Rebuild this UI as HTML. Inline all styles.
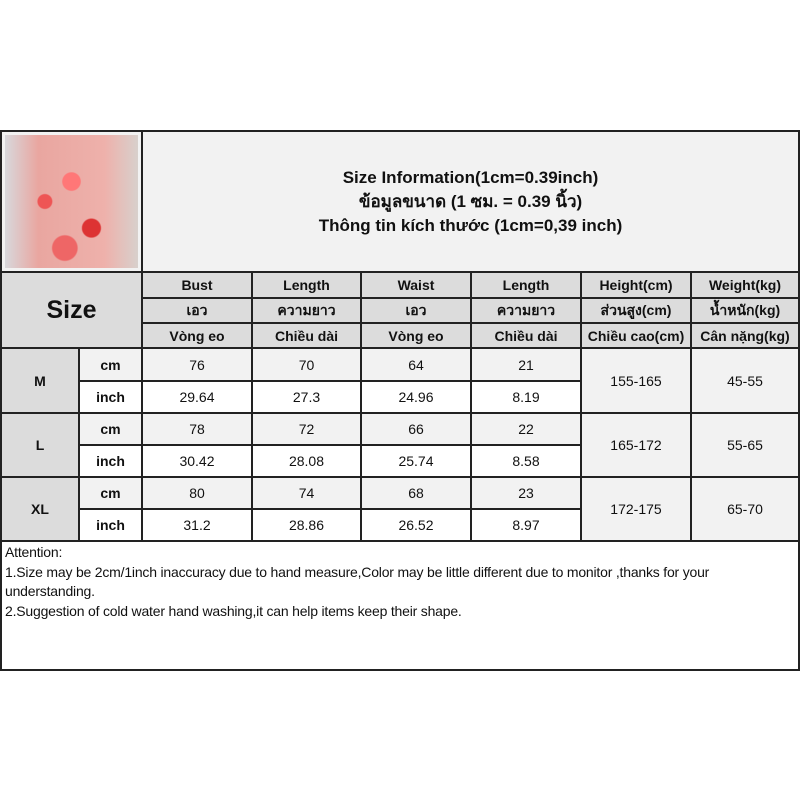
<!DOCTYPE html>
<html><head><meta charset="utf-8"><style>
body{margin:0;width:800px;height:800px;background:#fff;position:relative;overflow:hidden;font-family:"Liberation Sans","Noto Sans CJK SC",sans-serif;color:#111}
.c{position:absolute;box-sizing:border-box;border:2px solid #222;display:flex;align-items:center;justify-content:center;text-align:center;font-size:14px;background:#fff}
.h{background:#dcdcdc;font-weight:bold}
.g{background:#f2f2f2}
.b{font-weight:bold}
</style></head><body>
<div class="c" style="left:0;top:130px;width:143px;height:143px;padding:3px;background:#f2f2f2">
<div style="width:100%;height:100%;background:radial-gradient(circle at 30% 50%,#e55 0 6%,transparent 7%),radial-gradient(circle at 65% 70%,#d33 0 7%,transparent 8%),radial-gradient(circle at 50% 35%,#f77 0 8%,transparent 9%),radial-gradient(circle at 45% 85%,#e66 0 9%,transparent 10%),linear-gradient(90deg,#d8d8dc 0%,#e9a6a0 25%,#eeb1ab 75%,#d8d0cc 100%);"></div></div>
<div class="c g" style="left:141px;top:130px;width:659px;height:143px;flex-direction:column;font-weight:bold;font-size:17px;line-height:24px">
<div>Size Information(1cm=0.39inch)</div><div>ข้อมูลขนาด (1 ซม. = 0.39 นิ้ว)</div><div>Thông tin kích thước (1cm=0,39 inch)</div></div>
<div class="c h" style="left:0;top:271px;width:143px;height:78px;font-size:25px">Size</div>
<div class="c h" style="left:141px;top:271px;width:112px;height:28px">Bust</div>
<div class="c h" style="left:251px;top:271px;width:111px;height:28px">Length</div>
<div class="c h" style="left:360px;top:271px;width:112px;height:28px">Waist</div>
<div class="c h" style="left:470px;top:271px;width:112px;height:28px">Length</div>
<div class="c h" style="left:580px;top:271px;width:112px;height:28px">Height(cm)</div>
<div class="c h" style="left:690px;top:271px;width:110px;height:28px">Weight(kg)</div>
<div class="c h" style="left:141px;top:297px;width:112px;height:27px">เอว</div>
<div class="c h" style="left:251px;top:297px;width:111px;height:27px">ความยาว</div>
<div class="c h" style="left:360px;top:297px;width:112px;height:27px">เอว</div>
<div class="c h" style="left:470px;top:297px;width:112px;height:27px">ความยาว</div>
<div class="c h" style="left:580px;top:297px;width:112px;height:27px">ส่วนสูง(cm)</div>
<div class="c h" style="left:690px;top:297px;width:110px;height:27px">น้ำหนัก(kg)</div>
<div class="c h" style="left:141px;top:322px;width:112px;height:27px">Vòng eo</div>
<div class="c h" style="left:251px;top:322px;width:111px;height:27px">Chiều dài</div>
<div class="c h" style="left:360px;top:322px;width:112px;height:27px">Vòng eo</div>
<div class="c h" style="left:470px;top:322px;width:112px;height:27px">Chiều dài</div>
<div class="c h" style="left:580px;top:322px;width:112px;height:27px">Chiều cao(cm)</div>
<div class="c h" style="left:690px;top:322px;width:110px;height:27px">Cân nặng(kg)</div>
<div class="c h" style="left:0;top:347px;width:80px;height:67px">M</div>
<div class="c g b" style="left:78px;top:347px;width:65px;height:35px">cm</div>
<div class="c b" style="left:78px;top:380px;width:65px;height:34px">inch</div>
<div class="c g" style="left:141px;top:347px;width:112px;height:35px">76</div>
<div class="c g" style="left:251px;top:347px;width:111px;height:35px">70</div>
<div class="c g" style="left:360px;top:347px;width:112px;height:35px">64</div>
<div class="c g" style="left:470px;top:347px;width:112px;height:35px">21</div>
<div class="c" style="left:141px;top:380px;width:112px;height:34px">29.64</div>
<div class="c" style="left:251px;top:380px;width:111px;height:34px">27.3</div>
<div class="c" style="left:360px;top:380px;width:112px;height:34px">24.96</div>
<div class="c" style="left:470px;top:380px;width:112px;height:34px">8.19</div>
<div class="c g" style="left:580px;top:347px;width:112px;height:67px">155-165</div>
<div class="c g" style="left:690px;top:347px;width:110px;height:67px">45-55</div>
<div class="c h" style="left:0;top:412px;width:80px;height:66px">L</div>
<div class="c g b" style="left:78px;top:412px;width:65px;height:34px">cm</div>
<div class="c b" style="left:78px;top:444px;width:65px;height:34px">inch</div>
<div class="c g" style="left:141px;top:412px;width:112px;height:34px">78</div>
<div class="c g" style="left:251px;top:412px;width:111px;height:34px">72</div>
<div class="c g" style="left:360px;top:412px;width:112px;height:34px">66</div>
<div class="c g" style="left:470px;top:412px;width:112px;height:34px">22</div>
<div class="c" style="left:141px;top:444px;width:112px;height:34px">30.42</div>
<div class="c" style="left:251px;top:444px;width:111px;height:34px">28.08</div>
<div class="c" style="left:360px;top:444px;width:112px;height:34px">25.74</div>
<div class="c" style="left:470px;top:444px;width:112px;height:34px">8.58</div>
<div class="c g" style="left:580px;top:412px;width:112px;height:66px">165-172</div>
<div class="c g" style="left:690px;top:412px;width:110px;height:66px">55-65</div>
<div class="c h" style="left:0;top:476px;width:80px;height:66px">XL</div>
<div class="c g b" style="left:78px;top:476px;width:65px;height:34px">cm</div>
<div class="c b" style="left:78px;top:508px;width:65px;height:34px">inch</div>
<div class="c g" style="left:141px;top:476px;width:112px;height:34px">80</div>
<div class="c g" style="left:251px;top:476px;width:111px;height:34px">74</div>
<div class="c g" style="left:360px;top:476px;width:112px;height:34px">68</div>
<div class="c g" style="left:470px;top:476px;width:112px;height:34px">23</div>
<div class="c" style="left:141px;top:508px;width:112px;height:34px">31.2</div>
<div class="c" style="left:251px;top:508px;width:111px;height:34px">28.86</div>
<div class="c" style="left:360px;top:508px;width:112px;height:34px">26.52</div>
<div class="c" style="left:470px;top:508px;width:112px;height:34px">8.97</div>
<div class="c g" style="left:580px;top:476px;width:112px;height:66px">172-175</div>
<div class="c g" style="left:690px;top:476px;width:110px;height:66px">65-70</div>
<div class="c" style="left:0;top:540px;width:800px;height:131px;display:block;text-align:left;padding:1px 3px;font-size:14px;line-height:19.5px;letter-spacing:-0.2px">Attention:<br>1.Size may be 2cm/1inch inaccuracy due to hand measure,Color may be little different due to monitor ,thanks for your understanding.<br>2.Suggestion of cold water hand washing,it can help items keep their shape.</div>
</body></html>
